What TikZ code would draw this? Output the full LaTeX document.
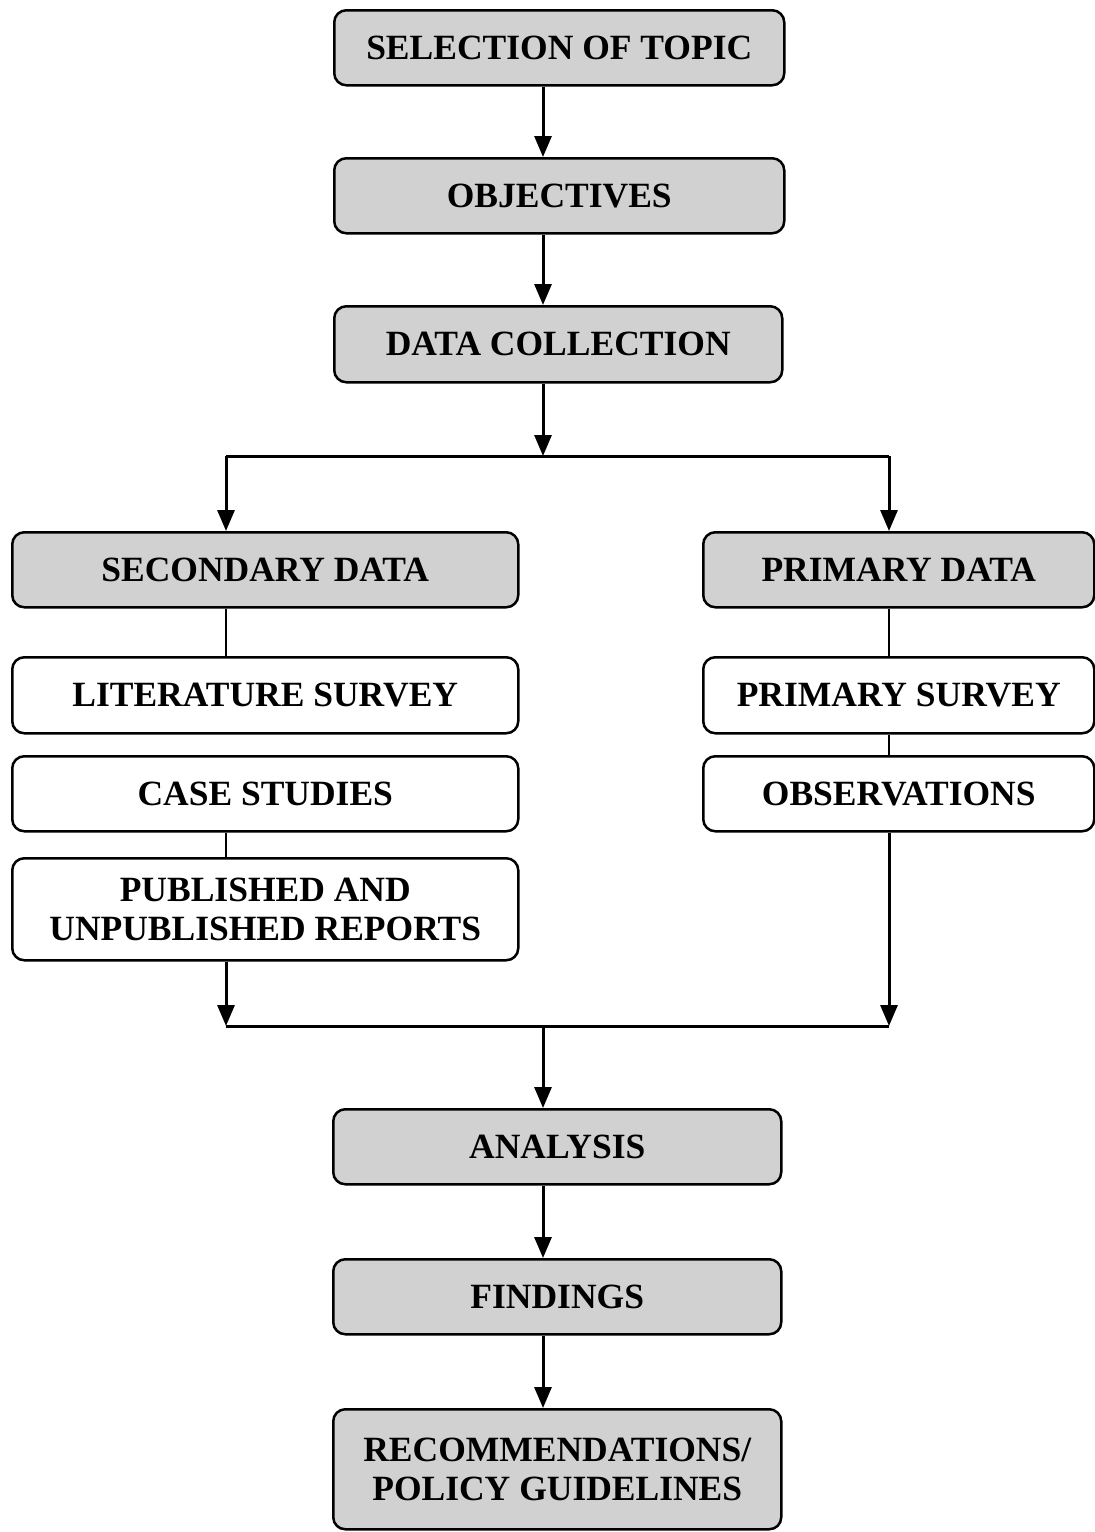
\documentclass[tikz,border=0pt]{standalone}
\usepackage{fontspec}
\setmainfont{Liberation Serif}
\usetikzlibrary{arrows.meta,calc}
\begin{document}
\begin{tikzpicture}[x=1pt,y=-1pt,
  box/.style={draw=black, line width=2.5pt, rounded corners=12pt, align=center,
    font=\fontsize{35.5}{39}\selectfont\bfseries, inner sep=0pt, anchor=north west},
  shadebox/.style={box, fill=black!18},
  plainbox/.style={box, fill=white},
  arr/.style={line width=3pt, -{Triangle[length=21pt,width=17pt]}},
  conn/.style={line width=3pt},
  thinconn/.style={line width=1.8pt}]
\useasboundingbox (0,0) rectangle (1095,1532);

% main column
\node[shadebox, minimum width=450pt, minimum height=75pt] (sel) at (333,9) {SELECTION OF TOPIC};
\node[shadebox, minimum width=450pt, minimum height=75pt] (obj) at (333,157) {OBJECTIVES};
\node[shadebox, minimum width=448pt, minimum height=76pt] (dc) at (333,305) {DATA COLLECTION};

% left column
\node[shadebox, minimum width=506pt, minimum height=75pt] (sec) at (11,531) {SECONDARY DATA};
\node[plainbox, minimum width=506pt, minimum height=76pt] (ls) at (11,656) {LITERATURE SURVEY};
\node[plainbox, minimum width=506pt, minimum height=75pt] (cs) at (11,755) {CASE STUDIES};
\node[plainbox, minimum width=506pt, minimum height=102pt] (pub) at (11,857) {PUBLISHED AND\\UNPUBLISHED REPORTS};

% right column
\node[shadebox, minimum width=391pt, minimum height=75pt] (pri) at (702,531) {PRIMARY DATA};
\node[plainbox, minimum width=391pt, minimum height=76pt] (ps) at (702,656) {PRIMARY SURVEY};
\node[plainbox, minimum width=391pt, minimum height=75pt] (obs) at (702,755) {OBSERVATIONS};

% lower main column
\node[shadebox, minimum width=448pt, minimum height=75pt] (ana) at (332,1108) {ANALYSIS};
\node[shadebox, minimum width=448pt, minimum height=75pt] (fin) at (332,1258) {FINDINGS};
\node[shadebox, minimum width=448pt, minimum height=120pt] (rec) at (332,1408) {RECOMMENDATIONS/\\POLICY GUIDELINES};

% helper coordinates
\coordinate (spine) at (543,0);
\coordinate (bl) at (226,456);
\coordinate (br) at (889,456);
\coordinate (ml) at (226,1026);
\coordinate (mr) at (889,1026);

% connectors
\draw[arr] (sel.south -| spine) -- (obj.north -| spine);
\draw[arr] (obj.south -| spine) -- (dc.north -| spine);
\draw[arr] (dc.south -| spine) -- (bl -| spine);
\draw[conn] (bl) -- (br);
\draw[arr] (bl) -- (sec.north -| bl);
\draw[arr] (br) -- (pri.north -| br);
\draw[thinconn] (sec.south -| bl) -- (ls.north -| bl);
\draw[thinconn] (cs.south -| bl) -- (pub.north -| bl);
\draw[thinconn] (pri.south -| br) -- (ps.north -| br);
\draw[thinconn] (ps.south -| br) -- (obs.north -| br);
\draw[arr] (pub.south -| bl) -- (ml);
\draw[arr] (obs.south -| br) -- (mr);
\draw[conn] (ml) -- (mr);
\draw[arr] (ml -| spine) -- (ana.north -| spine);
\draw[arr] (ana.south -| spine) -- (fin.north -| spine);
\draw[arr] (fin.south -| spine) -- (rec.north -| spine);
\end{tikzpicture}
\end{document}
